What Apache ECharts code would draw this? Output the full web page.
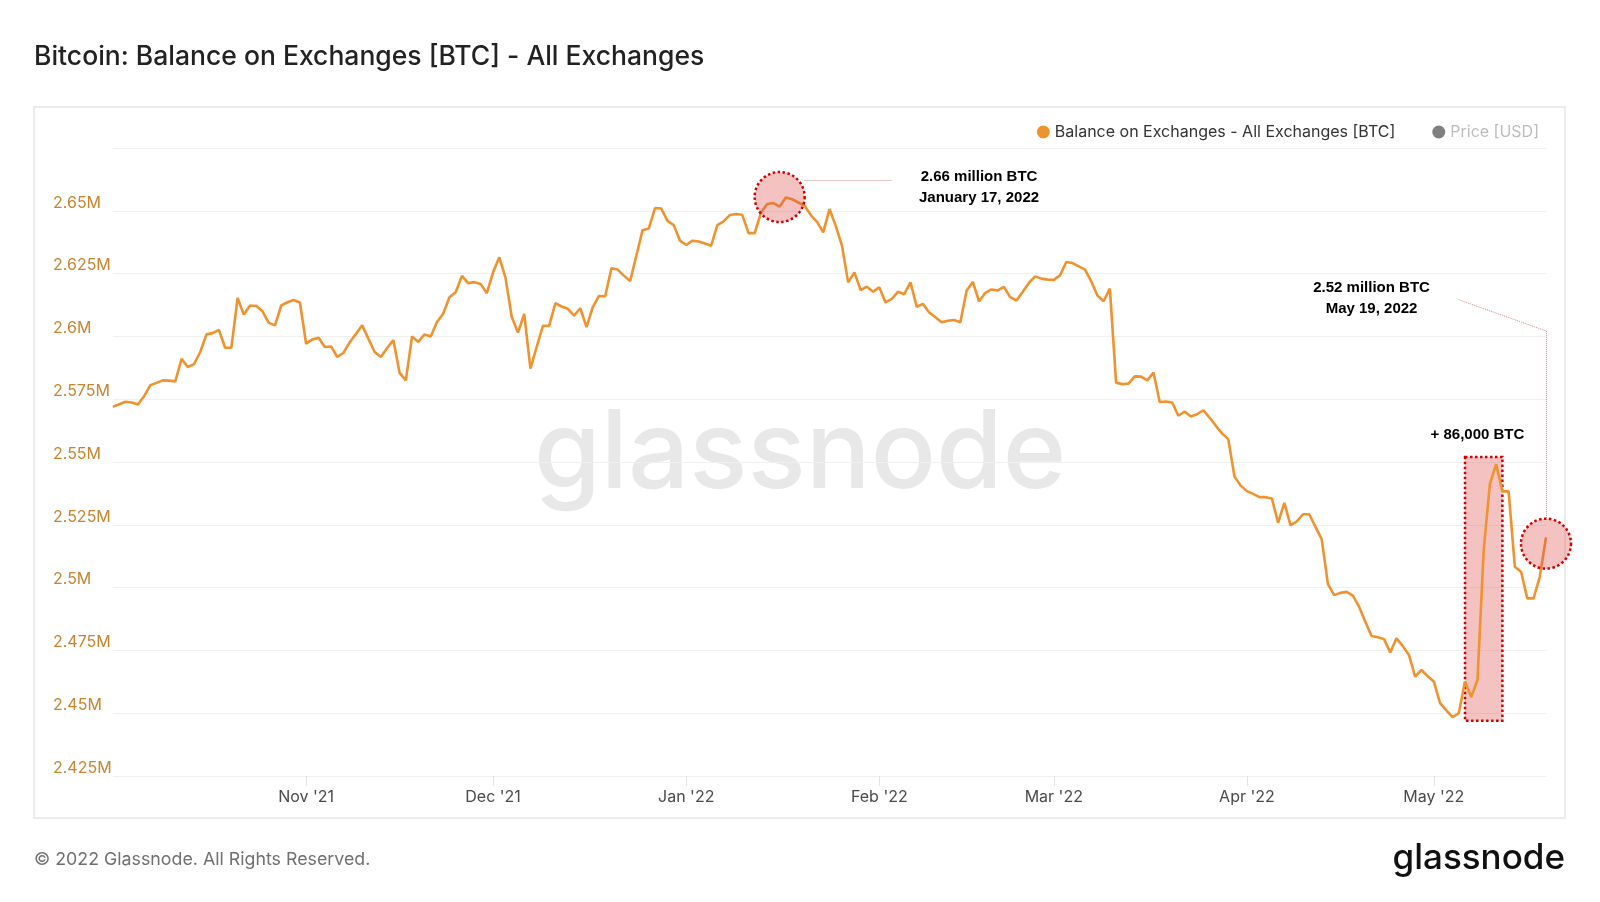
<!DOCTYPE html>
<html>
<head>
<meta charset="utf-8">
<script src="https://cdn.jsdelivr.net/npm/echarts@6/dist/echarts.min.js"></script>
<style>
html,body{margin:0;padding:0;background:#fff;}
#chart{width:1600px;height:902px;}
</style>
</head>
<body>
<div id="chart"></div>
<script>
// ---------------- DATA ----------------
const startDate = [2021, 9, 1]; // Oct 1, 2021 (daily points to May 19, 2022)
const balanceBTC = [
2572000,2573000,2574000,2573700,2572900,2576200,2580600,2581500,2582500,2582400,
2582100,2591100,2587800,2588900,2593800,2600800,2601300,2602600,2595500,2595500,
2615300,2608700,2612300,2612100,2610000,2605400,2604400,2612300,2613600,2614500,
2613500,2597100,2598800,2599500,2595800,2596000,2591800,2593500,2597700,2601000,
2604400,2599000,2593800,2591800,2595400,2598500,2585500,2582500,2600000,2597800,
2600800,2600000,2605700,2609000,2615600,2617600,2624100,2621200,2621600,2620900,
2617200,2625500,2631500,2623300,2607700,2601500,2609000,2587200,2595800,2604200,
2604200,2613200,2611900,2611000,2608300,2611200,2603700,2611600,2616100,2616000,
2627100,2626600,2624200,2622000,2632100,2642300,2643000,2651100,2650900,2646000,
2644300,2638100,2636400,2638100,2637800,2637000,2636100,2644300,2645800,2648300,
2648700,2648400,2641100,2641100,2649300,2652700,2653100,2651700,2655300,2654600,
2653300,2652000,2648300,2645600,2641400,2650700,2644000,2636100,2621500,2625500,
2618400,2619800,2617800,2619500,2613500,2614900,2617800,2616800,2621500,2611800,
2612900,2609500,2607600,2605600,2606200,2606500,2605600,2618200,2621700,2614000,
2617300,2618700,2618300,2619700,2615600,2614300,2617700,2621300,2623900,2623000,
2622600,2622500,2624300,2629600,2629200,2627900,2626600,2622000,2616300,2614000,
2619000,2581600,2581000,2581200,2584100,2584000,2582500,2585600,2573900,2574100,
2573700,2568400,2570100,2568100,2569000,2570600,2567700,2564400,2561400,2559100,
2544200,2540600,2538400,2537300,2536000,2536000,2535500,2525800,2533700,2524800,
2526400,2529200,2529200,2524200,2519300,2501400,2497000,2497900,2498300,2496800,
2492400,2486400,2480700,2480200,2479500,2474200,2479800,2476800,2473200,2464600,
2467200,2464800,2462600,2454000,2451100,2448400,2450000,2462600,2456400,2463200,
2514900,2541400,2549100,2538300,2538300,2508300,2506300,2495700,2495700,2504300,
2520000
];
const yMin = 2425000, yMax = 2675000, yStep = 25000;
const monthNames = ['Jan','Feb','Mar','Apr','May','Jun','Jul','Aug','Sep','Oct','Nov','Dec'];
const seriesName = 'Balance on Exchanges - All Exchanges [BTC]';
const priceName = 'Price [USD]';

// annotations (date index, value)
const peakCircle = [107, 2655500];
const lastCircle = [230, 2517500];
const spikeBox = [[217, 2552000], [223, 2447000]];
const peakConnector = [[111, 2662300], [125, 2662300]];
const lastConnector = [[216, 2614600], [230, 2602200], [230, 2527800]];
const peakText = [139, 2659400, '2.66 million BTC\nJanuary 17, 2022'];
const lastText = [202, 2615200, '2.52 million BTC\nMay 19, 2022'];
const spikeText = [219, 2560800, '+ 86,000 BTC'];

// ---------------- BUILD ----------------
const dates = [];
const t0 = Date.UTC(startDate[0], startDate[1], startDate[2]);
for (let i = 0; i < balanceBTC.length; i++) {
  dates.push(new Date(t0 + i * 86400000).toISOString().slice(0, 10));
}
const isMonthStart = (i, v) => i > 0 && v.slice(8) === '01';

const pink = 'rgba(225,80,80,0.35)';
const red = '#d40000';
const annFont = {color:'#000', fontWeight:'bold', fontSize:15, lineHeight:21,
  fontFamily:'"Liberation Sans", Arial, sans-serif'};

const chart = echarts.init(document.getElementById('chart'), null, {renderer:'canvas'});
chart.setOption({
  animation:false,
  backgroundColor:'#fff',
  textStyle:{fontFamily:'Inter, sans-serif'},
  graphic:[
    {type:'rect', z:0, silent:true, shape:{x:34, y:107, width:1531, height:711},
     style:{fill:'none', stroke:'#e6e6e6', lineWidth:1.5}},
    {type:'text', z:0, silent:true, x:34, y:57,
     style:{text:'Bitcoin: Balance on Exchanges [BTC] - All Exchanges', fill:'#222',
            font:'500 26.5px Inter', verticalAlign:'middle', align:'left'}},
    {type:'text', z:0, silent:true, x:800, y:456,
     style:{text:'glassnode', fill:'#e8e8e8', font:'500 108px Inter',
            align:'center', verticalAlign:'middle'}},
    {type:'text', z:0, silent:true, x:34, y:860,
     style:{text:'© 2022 Glassnode. All Rights Reserved.', fill:'#707070',
            font:'400 17.8px Inter', verticalAlign:'middle', align:'left'}},
    {type:'text', z:0, silent:true, x:1565, y:858,
     style:{text:'glassnode', fill:'#111', font:'500 35px Inter',
            verticalAlign:'middle', align:'right'}}
  ],
  legend:{
    top:119, right:56, icon:'circle', itemWidth:13, itemHeight:13, itemGap:37,
    textStyle:{fontSize:16, color:'#333', fontFamily:'Inter'},
    data:[{name:seriesName}, {name:priceName, textStyle:{color:'#bdbdbd'}}]
  },
  grid:{left:113, right:54, top:148, bottom:126, containLabel:false},
  xAxis:{
    type:'category', data:dates, boundaryGap:false,
    axisLine:{show:false},
    axisTick:{show:true, length:10, interval:isMonthStart, lineStyle:{color:'#e3e3e3'}},
    axisLabel:{interval:isMonthStart, color:'#4a4a4a', fontSize:16, margin:13,
      formatter:(v)=> monthNames[+v.slice(5,7)-1] + " '" + v.slice(2,4)},
    splitLine:{show:false}
  },
  yAxis:{
    type:'value', min:yMin, max:yMax, interval:yStep,
    axisLine:{show:false}, axisTick:{show:false},
    axisLabel:{showMaxLabel:false, align:'left', margin:60, verticalAlign:'bottom',
      color:'#c8842f', fontSize:16, formatter:(v)=> (v/1e6) + 'M'},
    splitLine:{lineStyle:{color:'#f0f0f0', width:1}}
  },
  series:[
    {name:seriesName, type:'line', data:balanceBTC, showSymbol:false, symbol:'none',
     z:2, itemStyle:{color:'#f0922e'}, lineStyle:{color:'#f0922e', width:2.6}},
    {name:priceName, type:'line', data:[], itemStyle:{color:'#808080'}},
    {name:'annotations', type:'line', data:[], z:5, silent:true,
     markArea:{silent:true, label:{show:false},
       itemStyle:{color:pink, borderColor:red, borderWidth:2.5, borderType:'dotted'},
       data:[[{xAxis:dates[spikeBox[0][0]], yAxis:spikeBox[0][1]},
              {xAxis:dates[spikeBox[1][0]], yAxis:spikeBox[1][1]}]]},
     markLine:{silent:true, symbol:['none','none'], label:{show:false},
       lineStyle:{color:'#d98a8a', width:1, type:'dotted'},
       data:[
         [{coord:[dates[peakConnector[0][0]], peakConnector[0][1]]},{coord:[dates[peakConnector[1][0]], peakConnector[1][1]]}],
         [{coord:[dates[lastConnector[0][0]], lastConnector[0][1]]},{coord:[dates[lastConnector[1][0]], lastConnector[1][1]]}],
         [{coord:[dates[lastConnector[1][0]], lastConnector[1][1]]},{coord:[dates[lastConnector[2][0]], lastConnector[2][1]]}]
       ]},
     markPoint:{silent:true, label:{show:false},
       data:[
         {coord:[dates[peakCircle[0]], peakCircle[1]], symbol:'circle', symbolSize:50,
          itemStyle:{color:pink, borderColor:red, borderWidth:2.5, borderType:'dotted'}},
         {coord:[dates[lastCircle[0]], lastCircle[1]], symbol:'circle', symbolSize:50,
          itemStyle:{color:pink, borderColor:red, borderWidth:2.5, borderType:'dotted'}},
         {coord:[dates[peakText[0]], peakText[1]], symbol:'circle', symbolSize:1,
          itemStyle:{color:'rgba(0,0,0,0)'},
          label:Object.assign({show:true, position:'inside', formatter:peakText[2]}, annFont)},
         {coord:[dates[lastText[0]], lastText[1]], symbol:'circle', symbolSize:1,
          itemStyle:{color:'rgba(0,0,0,0)'},
          label:Object.assign({show:true, position:'inside', formatter:lastText[2]}, annFont)},
         {coord:[dates[spikeText[0]], spikeText[1]], symbol:'circle', symbolSize:1,
          itemStyle:{color:'rgba(0,0,0,0)'},
          label:Object.assign({show:true, position:'inside', formatter:spikeText[2]}, annFont)}
       ]}
    }
  ]
});
</script>
</body>
</html>
